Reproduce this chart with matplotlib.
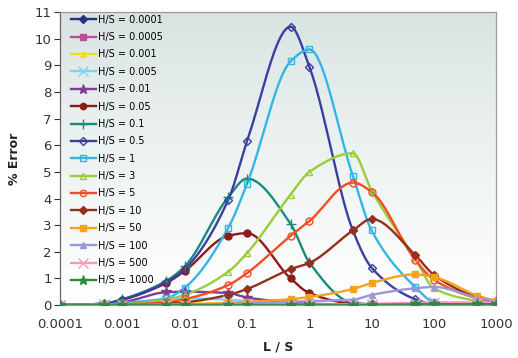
import numpy as np
import matplotlib
matplotlib.use("Agg")
import matplotlib.pyplot as plt

plt.rcParams['font.family'] = ['DejaVu Sans']

# L/S positions of the data points
ls = [1e-4, 5e-4, 1e-3, 5e-3, 1e-2, 5e-2, 0.1, 0.5, 1, 5, 10, 50, 100, 500, 1000]

labels = ["H/S = 0.0001", "H/S = 0.0005", "H/S = 0.001", "H/S = 0.005",
          "H/S = 0.01", "H/S = 0.05", "H/S = 0.1", "H/S = 0.5", "H/S = 1",
          "H/S = 3", "H/S = 5", "H/S = 10", "H/S = 50", "H/S = 100",
          "H/S = 500", "H/S = 1000"]

hs_0001 = [0, 0, 0, 0, 0, 0, 0, 0, 0, 0, 0, 0, 0, 0, 0]
hs_0005 = [0, 0, 0, 0.01, 0.01, 0.01, 0.01, 0, 0, 0, 0, 0, 0, 0, 0]
hs_001 = [0, 0, 0.01, 0.04, 0.05, 0.04, 0.03, 0.01, 0, 0, 0, 0, 0, 0, 0]
hs_005 = [0, 0.02, 0.05, 0.2, 0.25, 0.2, 0.15, 0.05, 0.02, 0, 0, 0, 0, 0, 0]
hs_01 = [0, 0.03, 0.1, 0.48, 0.5, 0.45, 0.28, 0.1, 0.05, 0.02, 0.01, 0, 0, 0, 0]
hs_05 = [0, 0.05, 0.2, 0.82, 1.28, 2.6, 2.7, 1.0, 0.45, 0.05, 0.02, 0, 0, 0, 0]
hs_1 = [0, 0.05, 0.22, 0.9, 1.45, 4.05, 4.75, 3.05, 1.6, 0.08, 0.03, 0, 0, 0, 0]
hs_5 = [0, 0.05, 0.2, 0.85, 1.35, 3.95, 6.15, 10.45, 8.95, 2.8, 1.4, 0.22, 0.03, 0, 0]
hs1 = [0, 0.02, 0.08, 0.25, 0.65, 2.9, 4.55, 9.15, 9.6, 4.85, 2.8, 0.68, 0.12, 0.02, 0]
hs3 = [0, 0.01, 0.03, 0.2, 0.38, 1.25, 1.95, 4.15, 5.0, 5.7, 4.3, 1.75, 0.63, 0.15, 0.05]
hs5 = [0, 0, 0.02, 0.1, 0.22, 0.75, 1.2, 2.6, 3.15, 4.6, 4.25, 1.7, 0.95, 0.25, 0.1]
hs10 = [0, 0, 0.01, 0.05, 0.1, 0.38, 0.6, 1.35, 1.58, 2.8, 3.23, 1.88, 1.13, 0.3, 0.15]
hs50 = [0, 0, 0, 0.02, 0.03, 0.08, 0.12, 0.22, 0.3, 0.6, 0.83, 1.15, 1.05, 0.35, 0.15]
hs100 = [0, 0, 0, 0.01, 0.02, 0.04, 0.06, 0.12, 0.15, 0.2, 0.38, 0.63, 0.68, 0.27, 0.15]
hs500 = [0, 0, 0, 0, 0, 0, 0, 0.01, 0.02, 0.03, 0.05, 0.08, 0.1, 0.1, 0.08]
hs1000 = [0, 0, 0, 0, 0, 0, 0, 0, 0, 0, 0.01, 0.02, 0.03, 0.03, 0.03]

series = [hs_0001, hs_0005, hs_001, hs_005, hs_01, hs_05, hs_1, hs_5,
          hs1, hs3, hs5, hs10, hs50, hs100, hs500, hs1000]

colors = ["#2b2f7f", "#c04b9b", "#e8e020", "#7fd3f0", "#7b3f98", "#8e1b1b",
          "#1a8a80", "#3a3fa0", "#35b5e5", "#9acd3a", "#f04e23", "#93301e",
          "#f7a21b", "#9b97d8", "#f49ac1", "#2e8b3c"]
markers = ["D", "s", "^", "x", "*", "o", "+", "D", "s", "^", "o", "D",
           "s", "^", "x", "*"]
hollow = [False, False, False, False, False, False, False, True, True, True,
          True, False, False, False, False, False]


def smooth(x, y, n=40):
    # smoothed line through the points (monotone cubic Hermite in log-x)
    lx = np.log10(x)
    y = np.asarray(y, float)
    h = np.diff(lx)
    d = np.diff(y) / h
    m = np.zeros_like(y)
    for k in range(1, len(y) - 1):
        if d[k - 1] * d[k] > 0:
            w1 = 2 * h[k] + h[k - 1]
            w2 = h[k] + 2 * h[k - 1]
            m[k] = (w1 + w2) / (w1 / d[k - 1] + w2 / d[k])
    m[0], m[-1] = d[0], d[-1]
    xs, ys = [], []
    for k in range(len(y) - 1):
        t = np.linspace(0, 1, n)
        h00 = 2 * t ** 3 - 3 * t ** 2 + 1
        h10 = t ** 3 - 2 * t ** 2 + t
        h01 = -2 * t ** 3 + 3 * t ** 2
        h11 = t ** 3 - t ** 2
        xs.append(lx[k] + t * h[k])
        ys.append(h00 * y[k] + h10 * h[k] * m[k] + h01 * y[k + 1] + h11 * h[k] * m[k + 1])
    return 10 ** np.concatenate(xs), np.concatenate(ys)


fig = plt.figure(figsize=(5.18, 3.58), dpi=100)
ax = fig.add_axes([0.116, 0.148, 0.842, 0.818])

# gradient background of the plot area
grad = np.linspace(0, 1, 256)[:, None]
top = np.array([0.84, 0.89, 0.88])
bot = np.array([1.0, 1.0, 1.0])
img = top + (bot - top) * grad ** 0.8
img = np.repeat(img[:, None, :], 2, axis=1)
ax.imshow(img, extent=[0, 1, 0, 1], transform=ax.transAxes, aspect="auto",
          zorder=0, interpolation="bilinear")

for y, lab, c, m, h in zip(series, labels, colors, markers, hollow):
    sx, sy = smooth(ls, y)
    ax.plot(sx, sy, color=c, lw=1.7, zorder=2, solid_capstyle="round")
    ms = 7 if m in ("*", "+", "x") else 5
    if m == "D":
        ms = 4.5
    face = "none" if h else c
    ax.plot(ls, y, linestyle="none", marker=m, ms=ms, color=c,
            markerfacecolor=face, markeredgewidth=1.0, zorder=3)
    ax.plot([], [], color=c, lw=1.7, marker=m, ms=ms - 0.5,
            markerfacecolor=face, label=lab)

ax.set_xscale("log")
ax.set_xlim(1e-4, 1e3)
ax.set_ylim(0, 11)
ax.set_yticks(range(0, 12))
ax.set_xticks([1e-4, 1e-3, 1e-2, 0.1, 1, 10, 100, 1000])
ax.set_xticklabels(["0.0001", "0.001", "0.01", "0.1", "1", "10", "100", "1000"])
ax.minorticks_off()
ax.tick_params(axis="x", length=0, pad=9, labelsize=9.5, colors="#333333")
ax.tick_params(axis="y", length=4, width=0.8, pad=2, labelsize=9.5,
               colors="#333333")
for s in ax.spines.values():
    s.set_color("#999999")
    s.set_linewidth(0.9)
ax.spines["left"].set_color("#666666")

ax.set_ylabel("% Error", fontsize=9, fontweight="bold", labelpad=10,
              color="#222222")
ax.set_xlabel("L / S", fontsize=9, fontweight="bold", labelpad=7,
              color="#222222")

leg = ax.legend(loc="upper left", bbox_to_anchor=(0.01, 1.015), frameon=False,
                fontsize=7, handlelength=2.5, handletextpad=0.2,
                labelspacing=0.76, borderaxespad=0.3)

fig.savefig("out.png", dpi=100)
